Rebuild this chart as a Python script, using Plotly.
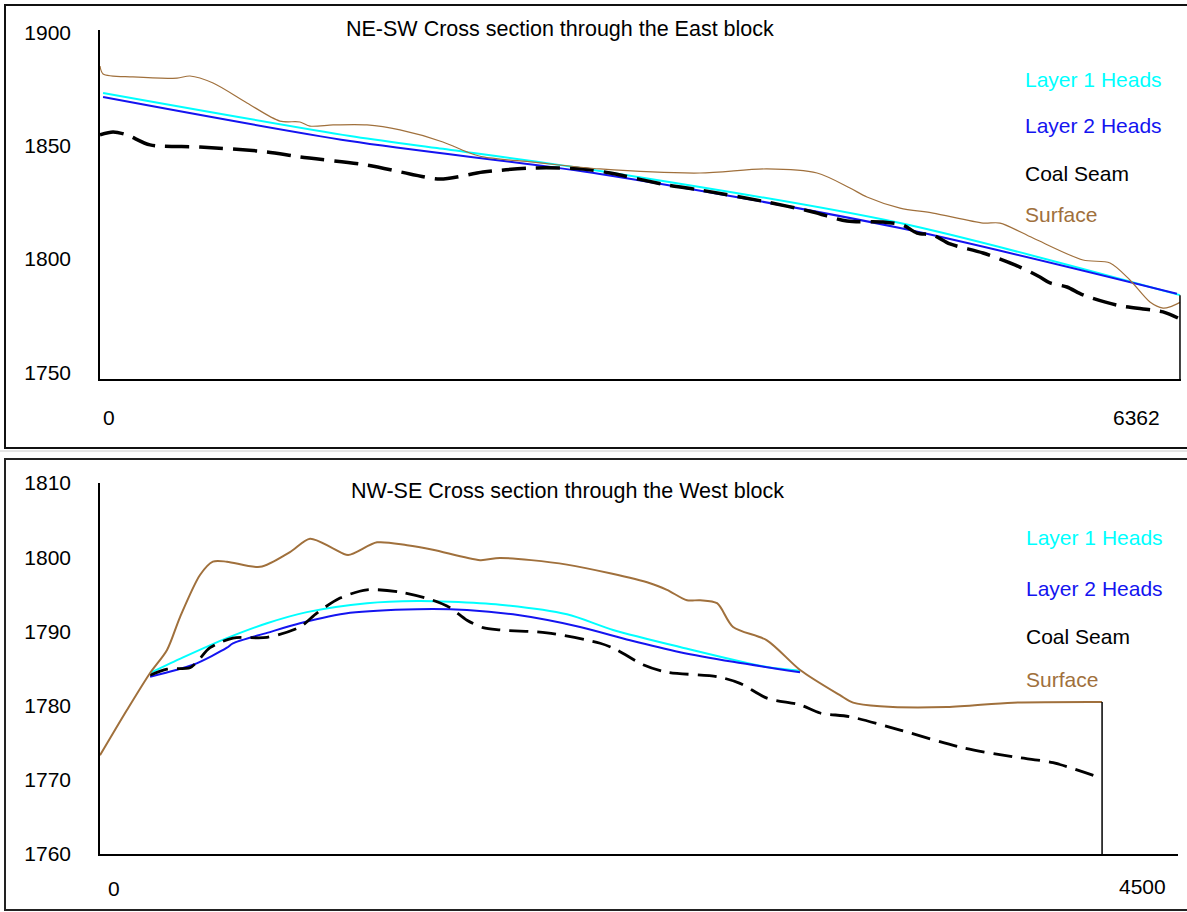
import plotly.graph_objects as go

W, H = 1187, 912
FONT = "Liberation Sans, Arial, Helvetica, sans-serif"

# ---------------- NE-SW section through the East block ----------------
east_title = "NE-SW Cross section through the East block"
east_length = 6362
east_xrange = [0, 6368]
east_yrange = [1747, 1901]
east_yticks = [1750, 1800, 1850, 1900]

east_surface_x = [0, 18, 194, 454, 530, 666, 866, 1060, 1178, 1237, 1373, 1573, 1767, 2020,
                  2162, 2256, 2551, 2945, 3534, 3929, 4224, 4418, 4518, 4713, 4907, 5202,
                  5302, 5496, 5791, 5950, 6067, 6185, 6262, 6303, 6362]
east_surface_y = [1885.1, 1881.6, 1880.3, 1879.8, 1880.7, 1877.6, 1868.8, 1860.8, 1860.4,
                  1858.6, 1859.1, 1859.1, 1856.9, 1851.6, 1847.2, 1845.0, 1842.7, 1839.7,
                  1837.9, 1839.7, 1837.9, 1831.3, 1827.3, 1822.4, 1820.2, 1815.8, 1815.8,
                  1809.2, 1799.5, 1798.2, 1790.7, 1781.0, 1778.3, 1778.8, 1780.8]

east_l1_x = [18, 1473, 1985, 2945, 4713, 6362]
east_l1_y = [1873.2, 1854.2, 1848.9, 1838.8, 1815.8, 1784.0]

east_l2_x = [18, 1473, 2945, 4713, 6344]
east_l2_y = [1871.4, 1852.0, 1837.5, 1813.6, 1784.6]

east_coal_x = [0, 77, 159, 295, 589, 984, 1178, 1573, 1826, 2003, 2256, 2551, 2845, 3004,
               3340, 3534, 3929, 4200, 4400, 4612, 4730, 4813, 4907, 5007, 5202, 5419,
               5537, 5596, 5696, 5791, 5991, 6262, 6350]
east_coal_y = [1854.7, 1856.0, 1854.7, 1850.3, 1849.4, 1847.2, 1845.0, 1841.4, 1837.5,
               1835.2, 1838.3, 1840.1, 1839.7, 1837.9, 1832.6, 1830.4, 1825.1, 1820.7,
               1816.7, 1816.3, 1814.9, 1811.4, 1810.5, 1806.6, 1802.6, 1796.4, 1792.0,
               1789.4, 1787.6, 1784.1, 1779.6, 1776.6, 1773.9]

# ---------------- NW-SE section through the West block ----------------
west_title = "NW-SE Cross section through the West block"
west_length = 4500
west_xrange = [0, 4841]
west_yrange = [1760, 1810]
west_yticks = [1760, 1770, 1780, 1790, 1800, 1810]

west_surface_x = [0, 121, 225, 301, 359, 449, 507, 570, 719, 853, 943, 1046, 1114, 1244,
                  1379, 1495, 1707, 1796, 2097, 2470, 2546, 2636, 2695, 2771, 2843, 2995,
                  3144, 3323, 3382, 3503, 3804, 4100, 4500]
west_surface_y = [1773.3, 1779.4, 1784.4, 1787.5, 1791.9, 1797.6, 1799.4, 1799.4, 1798.7,
                  1800.7, 1802.5, 1801.2, 1800.3, 1802.0, 1801.6, 1801.0, 1799.6, 1799.9,
                  1799.0, 1796.5, 1795.6, 1794.2, 1794.2, 1793.8, 1790.6, 1788.8, 1784.8,
                  1781.4, 1780.4, 1779.9, 1779.8, 1780.4, 1780.5]

west_l1_x = [225, 373, 570, 750, 929, 1199, 1424, 1572, 1796, 2097, 2304, 2605, 2995, 3144]
west_l1_y = [1784.4, 1786.5, 1789.1, 1791.1, 1792.6, 1793.8, 1794.1, 1794.0, 1793.6,
             1792.3, 1790.2, 1787.9, 1785.2, 1784.7]

west_l2_x = [225, 418, 570, 597, 750, 898, 1123, 1424, 1648, 1855, 2156, 2380, 2605, 2843, 3144]
west_l2_y = [1783.9, 1785.5, 1787.8, 1788.4, 1789.8, 1791.1, 1792.5, 1793.0, 1792.9,
             1792.3, 1790.6, 1788.8, 1787.2, 1785.9, 1784.5]

west_coal_x = [225, 301, 404, 436, 494, 597, 750, 898, 975, 1078, 1199, 1347, 1495, 1572,
               1648, 1720, 1796, 2007, 2246, 2322, 2439, 2546, 2771, 2874, 2995, 3144,
               3234, 3368, 3593, 3876, 4100, 4280, 4500]
west_coal_y = [1784.1, 1784.9, 1785.1, 1785.9, 1787.8, 1789.1, 1789.2, 1790.6, 1792.5,
               1794.5, 1795.6, 1795.3, 1794.2, 1793.2, 1791.5, 1790.5, 1790.2, 1789.8,
               1788.4, 1787.5, 1785.5, 1784.5, 1783.9, 1783.0, 1781.0, 1780.1, 1779.0,
               1778.5, 1776.7, 1774.3, 1773.1, 1772.3, 1770.2]

series_names = ["Layer 1 Heads", "Layer 2 Heads", "Coal Seam", "Surface"]
CYAN, BLUE, BLACK, BROWN = "#00FFFF", "#1414F0", "#000000", "#A0703C"
series_colors = [CYAN, BLUE, BLACK, BROWN]


def px_x(p):
    return p / W


def px_y(p):
    return 1 - p / H


fig = go.Figure()


def add_section(xa, ya, surf_x, surf_y, l1_x, l1_y, l2_x, l2_y, coal_x, coal_y,
                yrange, surf_w, coal_w, coal_dash):
    common = dict(xaxis=xa, yaxis=ya, mode="lines", showlegend=False, hoverinfo="skip")
    fig.add_trace(go.Scatter(x=l1_x, y=l1_y, line=dict(color=CYAN, width=2, shape="spline",
                                                       smoothing=0.8), **common))
    fig.add_trace(go.Scatter(x=l2_x, y=l2_y, line=dict(color=BLUE, width=2, shape="spline",
                                                       smoothing=0.8), **common))
    fig.add_trace(go.Scatter(x=coal_x, y=coal_y, line=dict(color=BLACK, width=coal_w,
                                                           dash=coal_dash, shape="spline",
                                                           smoothing=0.8), **common))
    fig.add_trace(go.Scatter(x=surf_x, y=surf_y, line=dict(color=BROWN, width=surf_w,
                                                           shape="spline", smoothing=0.8),
                             **common))
    # closing vertical edge of the section
    end_top = max(surf_y[-1], l1_y[-1] if l1_x[-1] == surf_x[-1] else surf_y[-1])
    fig.add_trace(go.Scatter(x=[surf_x[-1], surf_x[-1]], y=[yrange[0], end_top],
                             line=dict(color="black", width=1.5), **common))


add_section("x", "y", east_surface_x, east_surface_y, east_l1_x, east_l1_y,
            east_l2_x, east_l2_y, east_coal_x, east_coal_y, east_yrange,
            1.2, 3.5, "24px,10px")
add_section("x2", "y2", west_surface_x, west_surface_y, west_l1_x, west_l1_y,
            west_l2_x, west_l2_y, west_coal_x, west_coal_y, west_yrange,
            2, 2.8, "19px,9px")

axis_font = dict(family=FONT, size=21, color="black")
xcommon = dict(showgrid=False, zeroline=False, showline=True, linecolor="black",
               linewidth=1.5, showticklabels=False, ticks="", automargin=False)
ycommon = dict(showgrid=False, zeroline=False, showline=True, linecolor="black",
               linewidth=1.5, ticks="", tickfont=axis_font, ticklabelstandoff=23,
               automargin=False)

fig.update_layout(
    width=W, height=H,
    margin=dict(l=0, r=0, t=0, b=0, pad=0, autoexpand=False),
    paper_bgcolor="white", plot_bgcolor="white",
    xaxis=dict(domain=[px_x(100), px_x(1181)], range=east_xrange, anchor="y", **xcommon),
    yaxis=dict(domain=[px_y(379), px_y(30)], range=east_yrange, anchor="x",
               tickvals=east_yticks, **ycommon),
    xaxis2=dict(domain=[px_x(100), px_x(1178)], range=west_xrange, anchor="y2", **xcommon),
    yaxis2=dict(domain=[px_y(854), px_y(483)], range=west_yrange, anchor="x2",
                tickvals=west_yticks, **ycommon),
)

annotations = []


def text(x, y, s, color="black", anchor="left", size=21):
    annotations.append(dict(text=s, x=x, y=y, xref="paper", yref="paper",
                            xanchor=anchor, yanchor="middle", showarrow=False,
                            font=dict(family=FONT, size=size, color=color)))


# section titles
text(px_x(560), px_y(29), east_title, anchor="center", size=21.5)
text(px_x(567), px_y(491), west_title, anchor="center", size=21.5)

# series labels
for name, color, yy in zip(series_names, series_colors, [79, 125, 173, 214]):
    text(px_x(1023), px_y(yy), name, color=color)
for name, color, yy in zip(series_names, series_colors, [537, 588, 636, 679]):
    text(px_x(1024), px_y(yy), name, color=color)

# distance labels along the section base
for xref, xv, label, anchor, shift, yy in [
    ("x", 0, "0", "left", 1, 418),
    ("x", east_length, str(east_length), "right", -18, 418),
    ("x2", 0, "0", "left", 6, 888),
    ("x2", west_length, str(west_length), "right", 66, 886),
]:
    annotations.append(dict(text=label, x=xv, xref=xref, y=px_y(yy), yref="paper",
                            xanchor=anchor, yanchor="middle", xshift=shift,
                            showarrow=False, font=axis_font))

fig.update_layout(annotations=annotations)

# panel frames
shapes = [
    dict(type="rect", xref="paper", yref="paper", x0=px_x(5), x1=1.02,
         y0=px_y(448), y1=px_y(5), line=dict(color="#111", width=2)),
    dict(type="line", xref="paper", yref="paper", x0=0, x1=1, y0=px_y(451), y1=px_y(451),
         line=dict(color="#cccccc", width=1)),
    dict(type="rect", xref="paper", yref="paper", x0=px_x(5), x1=1.02,
         y0=px_y(910), y1=px_y(459), line=dict(color="#222", width=2)),
]
fig.update_layout(shapes=shapes)

fig.write_html("out.html")
